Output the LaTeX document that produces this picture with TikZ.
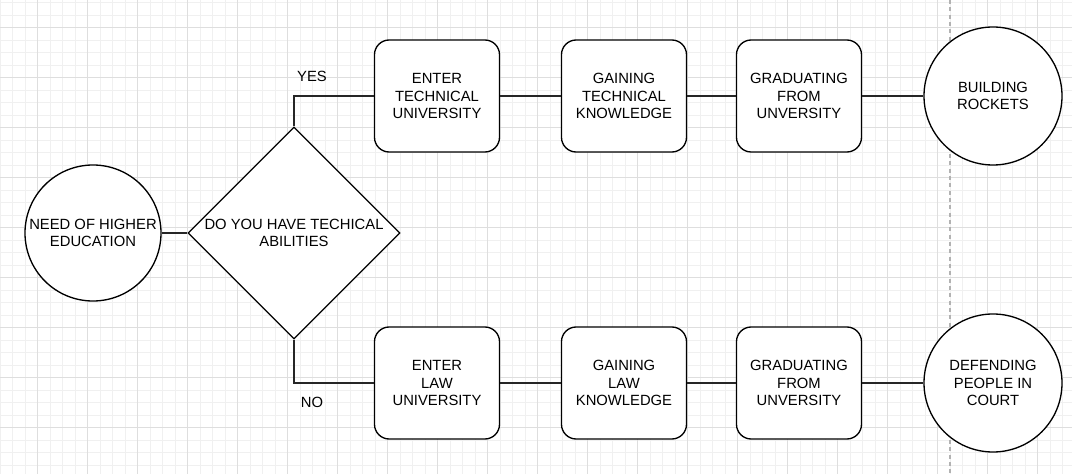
\documentclass[tikz,border=0pt]{standalone}
\usepackage{fontspec}
\setmainfont{Liberation Sans}
\usetikzlibrary{shapes.geometric,positioning}

\begin{document}
\begin{tikzpicture}[
    x=0.75pt, y=-0.75pt,
    minorgrid/.style={black!6, line width=0.6pt},
    majorgrid/.style={black!13, line width=0.6pt},
    divider/.style={black!30, line width=0.8pt, dash pattern=on 3pt off 2.5pt},
    txt/.style={font=\fontsize{11.1}{13.3}\selectfont, align=center},
    stepbox/.style={txt, draw, rounded corners=11pt, minimum width=93.75pt,
                    minimum height=84pt, inner sep=0pt, line width=1pt},
    endpoint/.style={txt, draw, circle, fill=white, minimum size=103.5pt,
                     inner sep=0pt, line width=1pt},
    decision/.style={draw, diamond, fill=white, minimum width=159pt,
                     minimum height=159pt, inner sep=0pt, line width=1pt},
    link/.style={line width=1pt, black!85},
]

% Canvas and grid
\useasboundingbox (0,0) rectangle (1072,474);
\fill[white] (0,0) rectangle (1072,474);
\foreach \gx in {0,12.5,...,1072} {\draw[minorgrid] (\gx,0) -- (\gx,474);}
\foreach \gy in {2.5,15,...,474} {\draw[minorgrid] (0,\gy) -- (1072,\gy);}
\foreach \gx in {37.5,87.5,...,1072} {\draw[majorgrid] (\gx,0) -- (\gx,474);}
\foreach \gy in {27.5,77.5,...,474} {\draw[majorgrid] (0,\gy) -- (1072,\gy);}
\draw[divider] (950,0) -- (950,474);

% Start and decision
\node[endpoint, minimum size=102pt] (need) at (93,233) {NEED OF HIGHER\\EDUCATION};
\node[decision, label={[txt]center:DO YOU HAVE TECHICAL\\ABILITIES}] (ask) at (294,233) {};

% Technical branch
\foreach \name/\x/\words in {
    etu/437/ENTER\\TECHNICAL\\UNIVERSITY,
    gtk/624/GAINING\\TECHNICAL\\KNOWLEDGE,
    gfut/799/GRADUATING\\FROM\\UNVERSITY}
{
    \node[stepbox, fill=white] (\name) at (\x,96) {\words};
}
\node[endpoint] (rockets) at (993,96) {BUILDING\\ROCKETS};

% Law branch
\foreach \name/\x/\words in {
    elu/437/ENTER\\LAW\\UNIVERSITY,
    glk/624/GAINING\\LAW\\KNOWLEDGE,
    gful/799/GRADUATING\\FROM\\UNVERSITY}
{
    \node[stepbox, fill=white] (\name) at (\x,383) {\words};
}
\node[endpoint] (court) at (993,383) {DEFENDING\\PEOPLE IN\\COURT};

% Branch labels
\node[txt] (yes) at (312,76) {YES};
\node[txt] (no) at (312,402) {NO};

% Connectors
\draw[link] (need) -- (ask);
\draw[link] (ask.north) |- (etu);
\draw[link] (ask.south) |- (elu);
\draw[link] (etu) -- (gtk);
\draw[link] (gtk) -- (gfut);
\draw[link] (gfut) -- (rockets);
\draw[link] (elu) -- (glk);
\draw[link] (glk) -- (gful);
\draw[link] (gful) -- (court);

\end{tikzpicture}
\end{document}
